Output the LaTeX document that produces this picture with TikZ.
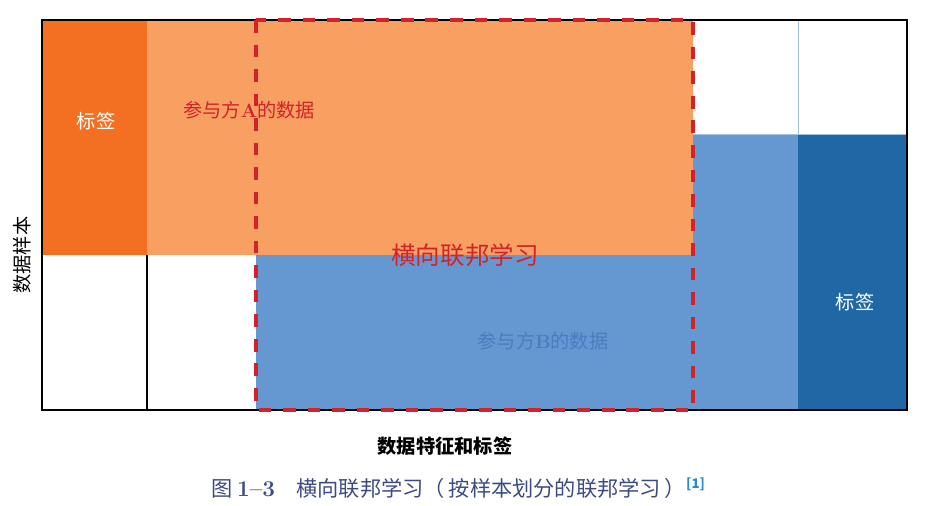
\documentclass[tikz,border=0pt]{standalone}
\usepackage{fontspec}
\newfontfamily\cjk{Noto Sans CJK SC}
\usepackage{xcolor}
\definecolor{cOrange}{HTML}{F37022}
\definecolor{cOrangeL}{HTML}{F8A061}
\definecolor{cBlueL}{HTML}{6598D0}
\definecolor{cBlue}{HTML}{1F67A5}
\definecolor{cRed}{HTML}{D1232C}
\definecolor{cBlueText}{HTML}{4A7CC2}
\definecolor{cCap}{HTML}{3D4C80}
\definecolor{cCite}{HTML}{2A8AD0}
\usepackage{tikz}
\usetikzlibrary{positioning}
\newcommand{\latinbf}[1]{{\rmfamily\bfseries #1}}
\tikzset{
  txt-label/.style={font=\cjk\fontsize{14.5pt}{16pt}\selectfont,text=white,inner sep=0pt},
  txt-party/.style={font=\cjk\fontsize{14.5pt}{16pt}\selectfont,inner sep=0pt},
  txt-axis/.style={font=\cjk\fontsize{14.5pt}{16pt}\selectfont,inner sep=0pt},
  frame-line/.style={draw=black,line width=0.8pt},
  split-line/.style={draw=cBlueL!60,line width=0.7pt},
  zone-dash/.style={draw=cRed,line width=2.4pt,dash pattern=on 9.5pt off 9pt},
}
\begin{document}
\begin{tikzpicture}[x=0.0265cm,y=-0.0265cm]
  \useasboundingbox (0,0) rectangle (952,505);
  % 参与方A / 参与方B 的数据块
  \fill[cOrangeL] (147,20) rectangle (693,255);
  \fill[cOrange] (42,20) rectangle (147,255);
  \fill[cBlueL] (256,255) rectangle (798,410);
  \fill[cBlueL] (693,134) rectangle (798,255);
  \fill[cBlue] (798,134) rectangle (907,410);
  \draw[split-line] (798,20) -- (798,134);
  \draw[split-line] (693,134) -- (907,134);
  \draw[frame-line] (42,20) rectangle (907,410);
  \draw[frame-line] (147,255) -- (147,410);
  % 横向联邦学习的重叠区域
  \draw[zone-dash] (256,20) rectangle (693,410);
  \node[txt-label] (labelA) at (96,121) {标签};
  \node[txt-party,text=cRed] (dataA) at (249,110) {参与方\latinbf{A}的数据};
  \node[txt-party,text=cRed,font=\cjk\fontsize{18.5pt}{20pt}\selectfont] (hfl) at (465,255) {横向联邦学习};
  \node[txt-party,text=cBlueText] (dataB) at (543,341) {参与方\latinbf{B}的数据};
  \node[txt-label] (labelB) at (855,302) {标签};
  \node[txt-axis,text=black,rotate=90] (ylab) at (22,255) {数据样本};
  \node[txt-axis,font=\cjk\bfseries\fontsize{14.5pt}{16pt}\selectfont] (xlab) at (445,446) {数据特征和标签};
  \node[txt-axis,text=cCap,font=\cjk\fontsize{16pt}{18pt}\selectfont] (cap) at (458,488)
    {图 {\fontsize{17pt}{18pt}\selectfont\latinbf{1--3}}\quad 横向联邦学习（\hspace{3pt}按样本划分的联邦学习\hspace{3pt}）\raisebox{0.7ex}{\textcolor{cCite}{\fontsize{10pt}{12pt}\selectfont\bfseries [1]}}};
\end{tikzpicture}
\end{document}
